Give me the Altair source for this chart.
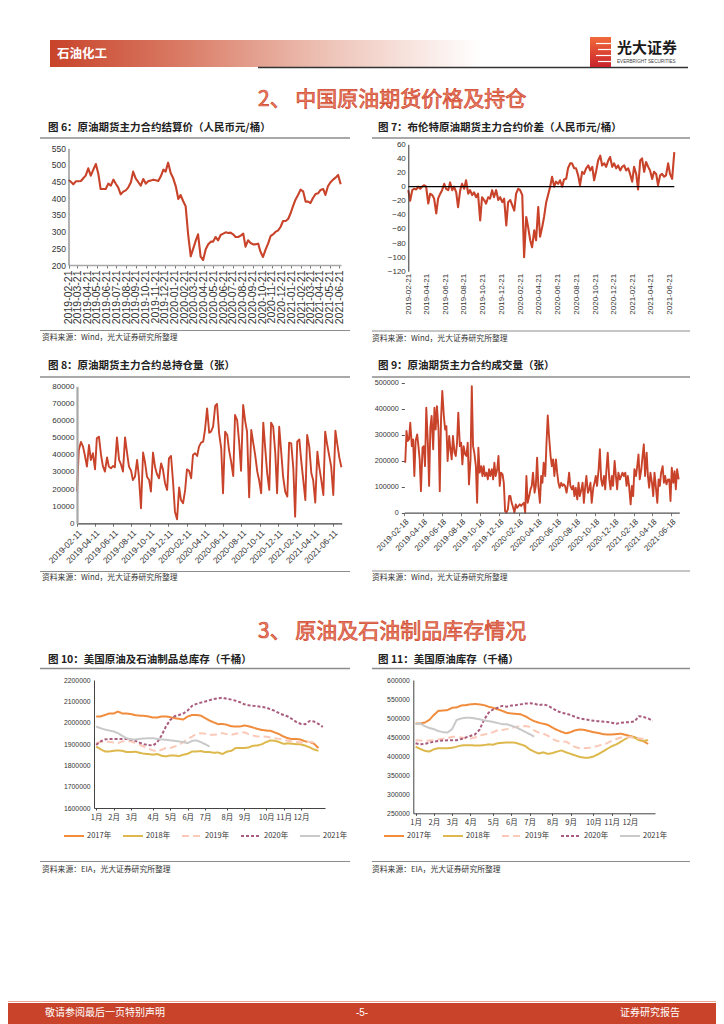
import altair as alt
import pandas as pd

W, H = 708, 1016
CJK = "Noto Sans CJK SC"
LAT = "Liberation Sans"
RED = "#C8432A"

# ---------------- data ----------------
fig6_values = [455, 450, 442, 451, 451, 452, 461, 468, 490, 468, 486, 503, 472, 428, 428, 428, 444, 438, 456, 443,
               433, 412, 420, 424, 433, 448, 480, 460, 449, 438, 458, 444, 452, 453, 456, 454, 452, 466, 486, 480,
               507, 476, 460, 436, 398, 410, 392, 376, 290, 226, 250, 274, 292, 225, 215, 247, 262, 270, 270, 284,
               274, 290, 294, 298, 296, 297, 292, 284, 284, 288, 294, 255, 274, 266, 262, 262, 264, 240, 224, 246,
               264, 287, 292, 300, 303, 314, 332, 332, 338, 356, 376, 396, 410, 426, 421, 390, 390, 386, 401, 413,
               415, 425, 428, 410, 436, 448, 456, 462, 470, 442]

fig7_values = [-5, -20, -5, -3, -4, 0, -3, 0, 2, 0, -24, -10, -12, -17, -38, -17, -10, -5, 4, -3,
               -5, 6, -5, 0, -8, -29, -5, 4, -3, 9, -10, -5, -12, -8, -15, -10, -48, -15, -19, -24,
               -15, -17, -5, -15, -5, -19, -15, -22, -17, -55, -22, -19, -26, -34, -10, -3, -5, -12, -100, -43,
               -57, -76, -86, -62, -76, -29, -71, -57, -43, -22, -12, 0, 14, 0, 7, 4, 9, 0, 10, 11,
               26, 33, 33, 26, 26, 16, 2, 21, 18, 26, 30, 23, 28, 9, 23, 37, 44, 30, 33, 28,
               37, 42, 28, 33, 26, 30, 23, 28, 30, 23, 26, 18, 7, 28, 18, -4, 37, 40, 21, 35,
               28, 23, 11, 21, 18, 2, 16, 18, 14, 16, 33, 18, 11, 49]

fig8_values = [18500, 42800, 47500, 44800, 39900, 33100, 45700, 37000, 40900, 31500,
               49600, 50600, 39900, 33500, 30200, 38500, 33100, 32100, 33500, 32700,
               50200, 37000, 34600, 30200, 50200, 41800, 33100, 30700, 25300, 27200,
               37000, 27200, 8800, 41300, 36000, 27200, 25300, 18500, 41300, 32700,
               28800, 26300, 35000, 31500, 23400, 19500, 37900, 39300, 23400, 6800,
               2300, 21000, 13600, 11700, 19500, 31500, 30700, 26300, 39900, 40900,
               39300, 44800, 47100, 47700, 54500, 67100, 52900, 53500, 56400, 68500,
               69700, 52500, 43800, 17500, 53500, 51600, 42800, 36000, 27600, 63200,
               60300, 46700, 30700, 69100, 59400, 53500, 15200, 54500, 47700, 39900,
               30200, 25300, 17500, 58800, 44800, 29200, 19500, 58800, 56400, 40900,
               17500, 56400, 40900, 27200, 18500, 15600, 47100, 46700, 32100, 3900,
               47700, 49000, 37000, 25300, 13600, 51600, 44800, 29200, 25300, 12100,
               41800, 33100, 25300, 16500, 53500, 45700, 38900, 33100, 16500, 54100,
               46700, 38500, 32700]

fig9_values = [192000, 314000, 276000, 282000, 346000, 256000, 282000, 141000, 276000, 301000,
               256000, 205000, 83000, 250000, 256000, 179000, 404000, 269000, 103000, 327000,
               372000, 244000, 404000, 320000, 410000, 320000, 83000, 359000, 468000, 372000,
               320000, 333000, 199000, 295000, 244000, 205000, 295000, 231000, 218000, 269000,
               385000, 256000, 269000, 186000, 256000, 224000, 218000, 269000, 109000, 205000,
               487000, 256000, 231000, 179000, 38000, 250000, 154000, 179000, 141000, 179000,
               141000, 154000, 128000, 167000, 141000, 167000, 128000, 192000, 141000, 167000,
               218000, 103000, 154000, 147000, 115000, 6000, 0, 13000, 64000, 64000,
               38000, 19000, 0, 32000, 19000, 26000, 32000, 26000, 32000, 38000,
               0, 141000, 38000, 64000, 90000, 103000, 154000, 77000, 103000, 212000,
               103000, 38000, 141000, 115000, 192000, 141000, 269000, 374000, 295000, 218000,
               179000, 205000, 141000, 205000, 154000, 115000, 96000, 115000, 103000, 109000,
               103000, 77000, 109000, 154000, 103000, 90000, 103000, 64000, 96000, 51000,
               115000, 64000, 83000, 115000, 38000, 96000, 141000, 77000, 90000, 115000,
               38000, 96000, 115000, 141000, 103000, 167000, 244000, 128000, 103000, 141000,
               90000, 167000, 231000, 128000, 90000, 141000, 103000, 199000, 141000, 90000,
               154000, 128000, 141000, 154000, 141000, 154000, 103000, 141000, 103000, 32000,
               103000, 64000, 167000, 141000, 179000, 224000, 128000, 167000, 218000, 263000,
               141000, 231000, 141000, 96000, 154000, 115000, 64000, 154000, 103000, 38000,
               128000, 103000, 154000, 179000, 115000, 141000, 109000, 128000, 128000, 45000,
               173000, 115000, 160000, 90000, 167000, 128000]

years = ["2017年", "2018年", "2019年", "2020年", "2021年"]

fig10_2017 = [2029000, 2029000, 2036000, 2043000, 2043000, 2052000, 2043000, 2043000, 2040000, 2035000, 2033000, 2032000, 2029000,
              2024000, 2024000, 2029000, 2029000, 2026000, 2021000, 2018000, 2015000, 2029000, 2036000, 2036000, 2033000, 2021000,
              2010000, 2001000, 1993000, 1994000, 1990000, 1983000, 1982000, 1982000, 1987000, 1983000, 1977000, 1971000, 1966000,
              1963000, 1962000, 1954000, 1946000, 1935000, 1927000, 1923000, 1924000, 1920000, 1912000, 1909000, 1901000, 1881000]
fig10_2018 = [1888000, 1876000, 1865000, 1865000, 1868000, 1870000, 1868000, 1862000, 1862000, 1864000, 1859000, 1854000, 1853000,
              1850000, 1853000, 1845000, 1842000, 1846000, 1846000, 1843000, 1850000, 1854000, 1865000, 1865000, 1867000, 1862000,
              1862000, 1859000, 1860000, 1853000, 1864000, 1868000, 1881000, 1881000, 1881000, 1884000, 1892000, 1893000, 1899000,
              1909000, 1917000, 1915000, 1909000, 1901000, 1903000, 1901000, 1899000, 1898000, 1892000, 1884000, 1874000, 1868000]
fig10_2019 = [1904000, 1909000, 1912000, 1910000, 1907000, 1904000, 1912000, 1915000, 1912000, 1904000, 1896000, 1887000, 1878000,
              1870000, 1865000, 1873000, 1881000, 1881000, 1888000, 1896000, 1909000, 1924000, 1935000, 1948000, 1951000, 1948000,
              1943000, 1943000, 1946000, 1951000, 1946000, 1943000, 1948000, 1951000, 1955000, 1946000, 1940000, 1935000, 1935000,
              1934000, 1930000, 1927000, 1924000, 1920000, 1915000, 1912000, 1909000, 1907000, 1909000, 1910000, 1907000]
fig10_2020 = [1896000, 1912000, 1921000, 1924000, 1924000, 1924000, 1923000, 1923000, 1920000, 1915000, 1906000, 1899000, 1895000,
              1893000, 1907000, 1940000, 1982000, 2013000, 2030000, 2036000, 2043000, 2057000, 2079000, 2088000, 2094000, 2099000,
              2105000, 2111000, 2114000, 2117000, 2112000, 2108000, 2103000, 2096000, 2086000, 2082000, 2079000, 2077000, 2074000,
              2071000, 2063000, 2055000, 2044000, 2036000, 2029000, 2016000, 2002000, 1994000, 1993000, 2008000, 2005000, 1994000, 1980000]
fig10_2021 = [1982000, 1974000, 1968000, 1963000, 1959000, 1951000, 1938000, 1927000, 1921000, 1921000, 1924000, 1926000, 1927000,
              1927000, 1924000, 1921000, 1920000, 1917000, 1915000, 1912000, 1909000, 1904000, 1915000, 1917000, 1909000, 1899000, 1888000]

fig11_2017 = [486000, 486000, 488000, 495000, 508000, 519000, 520000, 521000, 527000, 528000, 533000, 534000, 536000,
              537000, 536000, 534000, 530000, 527000, 523000, 519000, 514000, 512000, 511000, 510000, 505000, 498000,
              492000, 488000, 485000, 482000, 475000, 469000, 464000, 460000, 463000, 468000, 470000, 469000, 466000,
              463000, 461000, 458000, 457000, 457000, 458000, 459000, 456000, 453000, 450000, 444000, 439000, 432000]
fig11_2018 = [425000, 419000, 414000, 412000, 418000, 421000, 421000, 421000, 422000, 425000, 428000, 429000, 429000,
              428000, 428000, 429000, 431000, 430000, 434000, 435000, 436000, 436000, 435000, 431000, 427000, 418000,
              412000, 407000, 410000, 406000, 408000, 412000, 415000, 410000, 406000, 402000, 398000, 396000, 396000,
              399000, 405000, 412000, 419000, 426000, 431000, 438000, 445000, 452000, 449000, 442000, 440000, 442000]
fig11_2019 = [442000, 441000, 440000, 441000, 442000, 444000, 446000, 447000, 451000, 451000, 449000, 447000, 446000,
              449000, 454000, 457000, 459000, 463000, 468000, 469000, 471000, 474000, 477000, 478000, 479000, 477000,
              468000, 462000, 459000, 454000, 445000, 440000, 439000, 438000, 431000, 424000, 421000, 421000, 422000,
              424000, 427000, 431000, 434000, 440000, 445000, 449000, 450000, 450000, 449000, 447000, 445000]
fig11_2020 = [434000, 431000, 432000, 435000, 438000, 440000, 441000, 442000, 442000, 442000, 445000, 449000, 453000,
              457000, 469000, 495000, 514000, 523000, 527000, 532000, 530000, 533000, 534000, 536000, 538000, 539000,
              538000, 534000, 536000, 533000, 526000, 519000, 514000, 512000, 508000, 503000, 499000, 497000, 495000,
              493000, 492000, 491000, 490000, 488000, 485000, 488000, 489000, 489000, 491000, 505000, 503000, 499000, 493000]
fig11_2021 = [484000, 486000, 479000, 474000, 471000, 466000, 463000, 462000, 471000, 495000, 499000, 501000, 501000,
              499000, 497000, 494000, 492000, 490000, 487000, 484000, 484000, 480000, 476000, 470000, 464000, 458000, 451000]

month_labels = ["1月", "2月", "3月", "4月", "5月", "6月", "7月", "8月", "9月", "10月", "11月", "12月"]
fig10_month_weeks = [1, 5, 9, 14, 18, 22, 26, 31, 35, 40, 44, 48]
fig11_month_weeks = [1, 5, 9, 13, 18, 22, 26, 31, 35, 40, 44, 48]

# ---------------- helpers ----------------
one = pd.DataFrame({"k": [0]})


def txt(s, x, y, size, color="#222222", weight="normal", align="left", font=CJK, stroke=None, sw=None):
    kw = dict(align=align, baseline="middle", fontSize=size, font=font, fontWeight=weight, color=color)
    if stroke:
        kw.update(stroke=stroke, strokeWidth=sw)
    return alt.Chart(one).mark_text(**kw).encode(x=alt.value(x), y=alt.value(y), text=alt.value(s))


def hline(x1, x2, y, color, w):
    return alt.Chart(one).mark_rule(color=color, strokeWidth=w).encode(
        x=alt.value(x1), x2=alt.value(x2), y=alt.value(y))


def box(x1, x2, y1, y2, fill):
    return alt.Chart(one).mark_rect(fill=fill, strokeWidth=0).encode(
        x=alt.value(x1), x2=alt.value(x2), y=alt.value(y1), y2=alt.value(y2))


def dt(y, m, d):
    return alt.DateTime(year=y, month=m, date=d, utc=True)


def month_seq(y0, m0, count, step):
    out = []
    y, m = y0, m0
    for _ in range(count):
        out.append((y, m))
        m += step
        while m > 12:
            m -= 12
            y += 1
    return out


DATE_EXPR = "utcFormat(datum.value, '%Y-%m-%d')"


def ts_chart(start, end, values, xdom, xr, ydom, yr, yvals, xticks, angle, xfs, yfs,
             xdomain=True, xdomcolor="#999999", xdomw=1.2, ydomain=True, ydomcolor="#555555", ydomw=1,
             yticks=False, xtick=True, lw=1.9):
    dates = pd.date_range(start, end, periods=len(values)).strftime("%Y-%m-%d").tolist()
    df = pd.DataFrame({"date": dates, "v": values})
    xaxis = alt.Axis(orient="bottom", offset=yr[0] - H, values=xticks, labelExpr=DATE_EXPR,
                     labelAngle=angle, labelFontSize=xfs, labelFont=LAT, labelColor="#333333",
                     labelOverlap=False, labelFlush=False, labelBound=False, grid=False, title=None,
                     domain=xdomain, domainColor=xdomcolor, domainWidth=xdomw, zindex=1,
                     ticks=xtick, tickSize=3, tickColor="#777777", labelPadding=2)
    yaxis = alt.Axis(orient="left", offset=-xr[0], values=yvals, format="d", labelFontSize=yfs, labelFont=LAT,
                     labelColor="#333333", grid=False, title=None, domain=ydomain, domainColor=ydomcolor,
                     domainWidth=ydomw, ticks=yticks, tickSize=3, tickColor="#555555", labelPadding=3,
                     labelOverlap=False, labelFlush=False, labelBound=False, zindex=1)
    return alt.Chart(df).mark_line(color=RED, strokeWidth=lw, strokeJoin="round").encode(
        x=alt.X("date:T", scale=alt.Scale(type="utc", domain=xdom, range=xr), axis=xaxis),
        y=alt.Y("v:Q", scale=alt.Scale(domain=ydom, range=yr, nice=False, zero=False), axis=yaxis),
    )


YEAR_COLORS = ["#F08C3C", "#DDB84C", "#FAC9B8", "#A95C7E", "#C9C9C9"]
YEAR_DASH = [[1, 0], [1, 0], [7, 4], [3, 2], [1, 0]]
YEAR_WIDTH = [2.0, 2.0, 1.6, 1.6, 1.6]


def week_chart(series, xr, yr, ydom, yvals, month_weeks, lx, ly, yfs):
    rows = []
    for yname, vals in zip(years, series):
        for i, v in enumerate(vals):
            rows.append({"year": yname, "week": i + 1, "v": v})
    df = pd.DataFrame(rows)
    lab_expr = ("[" + ",".join("'%s'" % m for m in month_labels) + "][indexof([" +
                ",".join(str(w) for w in month_weeks) + "], datum.value)]")
    leg = alt.Legend(orient="none", legendX=lx, legendY=ly, direction="horizontal", title=None,
                     symbolType="stroke", symbolSize=400, symbolStrokeWidth=2, labelFont=CJK,
                     labelFontSize=7.5, labelColor="#333333", columnPadding=7, labelOffset=2, padding=0)
    return alt.Chart(df).mark_line(strokeJoin="round").encode(
        x=alt.X("week:Q", scale=alt.Scale(domain=[0.5, 53.5], range=xr, nice=False, zero=False),
                axis=alt.Axis(orient="bottom", offset=yr[0] - H, values=month_weeks, labelExpr=lab_expr,
                              labelFont=CJK, labelFontSize=7.5, labelColor="#333333", grid=False, title=None,
                              domainColor="#444444", ticks=True, tickSize=2, tickColor="#444444", zindex=1,
                              labelPadding=3, labelOverlap=False, labelFlush=False, labelBound=False)),
        y=alt.Y("v:Q", scale=alt.Scale(domain=ydom, range=yr, nice=False, zero=False),
                axis=alt.Axis(orient="left", offset=-xr[0], values=yvals, format="d", labelFont=LAT,
                              labelFontSize=yfs, labelColor="#333333", grid=False, title=None, zindex=1,
                              domainColor="#444444", ticks=False, labelPadding=4,
                              labelOverlap=False, labelFlush=False, labelBound=False)),
        color=alt.Color("year:N", scale=alt.Scale(domain=years, range=YEAR_COLORS), legend=leg),
        strokeDash=alt.StrokeDash("year:N", scale=alt.Scale(domain=years, range=YEAR_DASH), legend=leg),
        strokeWidth=alt.StrokeWidth("year:N", scale=alt.Scale(domain=years, range=YEAR_WIDTH), legend=None),
    )


# ---------------- panels ----------------
m_every = month_seq(2019, 2, 29, 1)
m_two = month_seq(2019, 2, 15, 2)

fig6 = ts_chart("2019-02-21", "2021-06-25", fig6_values, [dt(2019, 2, 21), dt(2021, 6, 26)], [60.5, 333],
                [200, 550], [257, 140.3], list(range(200, 551, 50)),
                [dt(y, m, 21) for y, m in m_every], -90, 10.5, 8.5,
                xdomcolor="#A8A8A8", xdomw=1.6, ydomcolor="#666666", lw=2.1)

F7_XDOM = [dt(2019, 2, 21), dt(2021, 7, 6)]
F7_XR = [400.3, 666.3]
F7_YDOM = [-120, 60]
F7_YR = [263.3, 136.3]
fig7 = ts_chart("2019-02-21", "2021-07-06", fig7_values, F7_XDOM, F7_XR, F7_YDOM, F7_YR,
                list(range(-120, 61, 20)), [dt(y, m, 21) for y, m in m_two], -90, 8, 8,
                xdomain=False, xtick=False, ydomcolor="#333333", lw=2.1)
zero_df = pd.DataFrame({"d0": ["2019-02-21"], "d1": ["2021-07-06"], "v": [0]})
fig7_zero = alt.Chart(zero_df).mark_rule(color="#000000", strokeWidth=1.3).encode(
    x=alt.X("d0:T", scale=alt.Scale(type="utc", domain=F7_XDOM, range=F7_XR), axis=None), x2="d1:T",
    y=alt.Y("v:Q", scale=alt.Scale(domain=F7_YDOM, range=F7_YR, nice=False, zero=False), axis=None))

fig8 = ts_chart("2019-02-11", "2021-07-10", fig8_values, [dt(2019, 2, 11), dt(2021, 7, 11)], [69, 333.7],
                [0, 80000], [515.3, 378.3], list(range(0, 80001, 10000)),
                [dt(y, m, 11) for y, m in m_two], -45, 8.5, 8,
                xdomcolor="#444444", ydomcolor="#A8A8A8", ydomw=2.2)

fig9 = ts_chart("2019-02-21", "2021-07-11", fig9_values, [dt(2019, 2, 18), dt(2021, 7, 13)], [396.3, 671.3],
                [0, 500000], [504.7, 374.7], list(range(0, 500001, 100000)),
                [dt(y, m, 18) for y, m in m_two], -45, 8, 7.2,
                xdomcolor="#555555", ydomain=False, yticks=True)

fig10 = week_chart([fig10_2017, fig10_2018, fig10_2019, fig10_2020, fig10_2021], [86, 317], [800, 672],
                   [1600000, 2200000], list(range(1600000, 2200001, 100000)), fig10_month_weeks, 55, 817, 6.8)
fig11 = week_chart([fig11_2017, fig11_2018, fig11_2019, fig11_2020, fig11_2021], [405.3, 647], [805.3, 672],
                   [250000, 600000], list(range(250000, 600001, 50000)), fig11_month_weeks, 375, 817, 6.8)

# ---------------- decorations ----------------
band_grad = alt.LinearGradient(gradient="linear", x1=0, x2=1, y1=0, y2=0, stops=[
    alt.GradientStop(color="#C8432A", offset=0), alt.GradientStop(color="#D97A64", offset=0.3),
    alt.GradientStop(color="#EEC4B8", offset=0.65), alt.GradientStop(color="#FFFFFF", offset=1)])
logo_grad = alt.LinearGradient(gradient="linear", x1=0, x2=0, y1=0, y2=1, stops=[
    alt.GradientStop(color="#F26A3A", offset=0), alt.GradientStop(color="#C8232C", offset=1)])

SRC_WIND = "资料来源：Wind，光大证券研究所整理"
SRC_EIA = "资料来源：EIA，光大证券研究所整理"
SEC_FILL = "#E8826A"
SEC_STROKE = "#D0452B"

decor = [
    box(42, 472, 32, 59, band_grad),
    txt("石油化工", 49, 46, 12.5, color="#FFFFFF", weight="bold"),
    hline(250, 680, 59.5, "#333333", 1.5),
    box(582, 603, 29, 59, logo_grad),
    hline(588, 603, 35.5, "#FFFFFF", 1.2),
    hline(590, 603, 41.5, "#FFFFFF", 1.2),
    hline(588, 603, 47.5, "#FFFFFF", 1.2),
    hline(590, 603, 53.5, "#FFFFFF", 1.2),
    txt("光大证券", 609, 40, 15, color="#1A1A1A", weight="bold"),
    txt("EVERBRIGHT SECURITIES", 609, 53.5, 4.6, color="#444444", font=LAT),
    txt("2、 中国原油期货价格及持仓", 250, 92, 21, color=SEC_FILL, stroke=SEC_STROKE, sw=0.7),
    txt("图 6：原油期货主力合约结算价（人民币元/桶）", 40, 120, 10.5, weight="bold"),
    txt("图 7：布伦特原油期货主力合约价差（人民币元/桶）", 370, 120, 10.5, weight="bold"),
    hline(32, 342, 130, "#8C8C8C", 1.5),
    hline(364, 682, 130, "#8C8C8C", 1.5),
    hline(32, 342, 322.5, "#8C8C8C", 1),
    hline(364, 682, 323, "#8C8C8C", 1),
    txt(SRC_WIND, 34, 330, 7.8, color="#333333"),
    txt(SRC_WIND, 364, 331, 7.8, color="#333333"),
    txt("图 8：原油期货主力合约总持仓量（张）", 40, 358, 10.5, weight="bold"),
    txt("图 9：原油期货主力合约成交量（张）", 370, 358, 10.5, weight="bold"),
    hline(32, 342, 369, "#8C8C8C", 1.5),
    hline(364, 682, 369, "#8C8C8C", 1.5),
    hline(32, 342, 563.5, "#8C8C8C", 1),
    hline(364, 682, 563, "#8C8C8C", 1),
    txt(SRC_WIND, 34, 569.5, 7.8, color="#333333"),
    txt(SRC_WIND, 364, 569.5, 7.8, color="#333333"),
    txt("3、 原油及石油制品库存情况", 250, 624, 21, color=SEC_FILL, stroke=SEC_STROKE, sw=0.7),
    txt("图 10：美国原油及石油制品总库存（千桶）", 40, 652, 10.5, weight="bold"),
    txt("图 11：美国原油库存（千桶）", 370, 652, 10.5, weight="bold"),
    hline(32, 342, 660.5, "#8C8C8C", 1.5),
    hline(364, 682, 660.5, "#8C8C8C", 1.5),
    hline(32, 342, 853.5, "#8C8C8C", 1),
    hline(364, 682, 853.5, "#8C8C8C", 1),
    txt(SRC_EIA, 34, 861.5, 7.8, color="#333333"),
    txt(SRC_EIA, 364, 861.5, 7.8, color="#333333"),
    hline(0, W, 993.5, "#EBAA98", 1.2),
    box(0, W, 995, H, RED),
    txt("敬请参阅最后一页特别声明", 37, 1005, 10, color="#FFFFFF"),
    txt("-5-", 354, 1005, 10, color="#FFFFFF", align="center", font=LAT),
    txt("证券研究报告", 672, 1005, 10, color="#FFFFFF", align="right"),
]

chart = alt.layer(*decor, fig6, fig7, fig7_zero, fig8, fig9, fig10, fig11).resolve_scale(
    x="independent", y="independent", color="independent", strokeDash="independent",
    strokeWidth="independent"
).resolve_axis(x="independent", y="independent").resolve_legend(
    color="independent", strokeDash="independent"
).properties(
    width=W, height=H, autosize=alt.AutoSizeParams(type="none"), padding=0, background="white"
).configure_view(strokeWidth=0)

chart.save("out.html", embed_options={"renderer": "svg", "actions": False})
